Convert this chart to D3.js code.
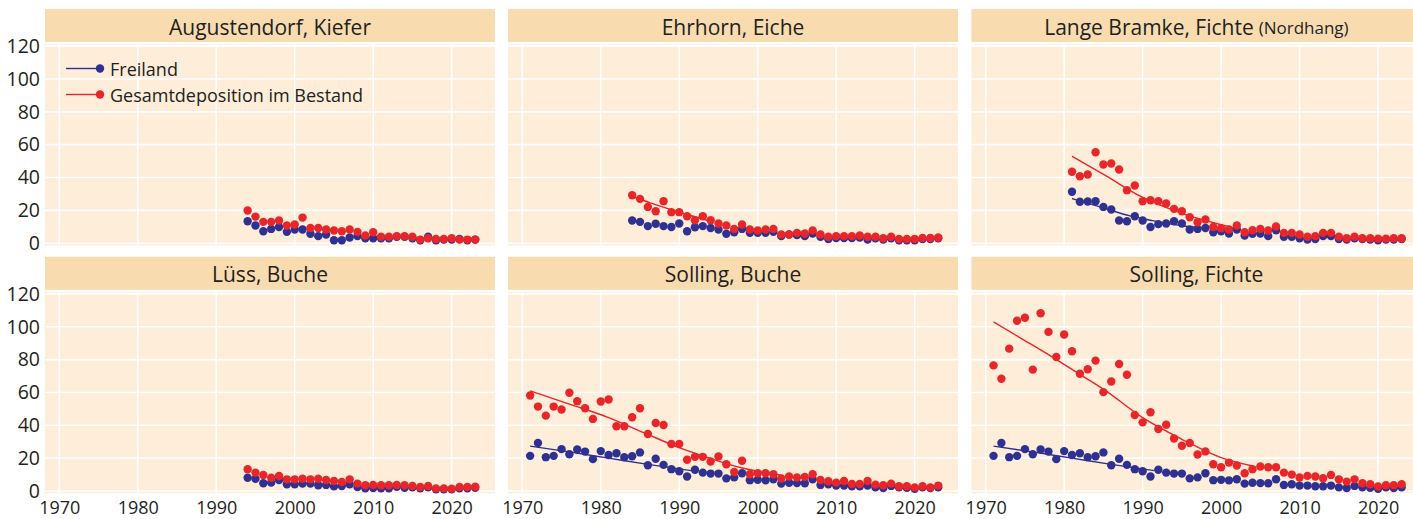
<!DOCTYPE html>
<html>
<head>
<meta charset="utf-8">
<script src="https://cdn.jsdelivr.net/npm/d3@7"></script>
<style>
  html, body { margin: 0; padding: 0; background: #ffffff; }
  svg { display: block; font-family: "Open Sans", sans-serif; }
</style>
</head>
<body>
<svg id="chart" width="1413" height="519"></svg>
<script>
// ---- Annual deposition per site (kg/ha/yr), Freiland = open field, Gesamt = total in stand ----
const xTicks = [1970, 1980, 1990, 2000, 2010, 2020];
const yTicks = [0, 20, 40, 60, 80, 100, 120];

const seriesNames = ["Freiland", "Gesamtdeposition im Bestand"];

const augustendorfStart = 1994;
const augustendorfFreiland = [13.4, 10.8, 7.3, 8.7, 9.9, 6.9, 8.3, 8.3, 5.7, 4.3, 5.3, 1.8, 1.8, 3.5, 4.3, 3.0, 3.0, 3.0, 3.0, 3.9, 3.9, 3.0, 1.8, 3.9, 1.8, 2.2, 2.2, 2.6, 1.8, 2.2];
const augustendorfGesamt = [19.9, 16.2, 13.0, 13.0, 13.8, 10.8, 11.4, 15.6, 9.3, 9.3, 8.3, 7.7, 7.3, 8.3, 6.9, 4.7, 6.7, 3.9, 3.9, 4.3, 4.3, 3.9, 2.2, 3.0, 2.6, 2.6, 3.0, 2.2, 2.2, 2.2];

const ehrhornStart = 1984;
const ehrhornFreiland = [13.8, 13.0, 10.4, 11.8, 10.4, 9.9, 12.0, 7.3, 9.7, 10.4, 9.3, 8.3, 5.7, 6.7, 8.7, 6.3, 6.3, 6.3, 6.9, 4.3, 5.3, 4.9, 4.3, 5.9, 3.9, 2.6, 3.2, 3.2, 3.2, 3.5, 2.2, 3.0, 2.2, 3.0, 1.8, 1.8, 1.8, 2.6, 2.6, 3.0];
const ehrhornGesamt = [29.2, 27.0, 22.1, 19.5, 25.6, 18.9, 18.9, 16.4, 14.0, 16.4, 14.0, 12.0, 10.8, 8.7, 11.4, 8.3, 7.7, 8.3, 8.7, 5.3, 5.3, 6.3, 5.9, 7.7, 5.3, 3.9, 4.3, 4.3, 4.3, 4.7, 3.9, 3.9, 3.0, 3.9, 2.6, 2.6, 2.6, 3.2, 3.2, 3.5];
const ehrhornGesamtTrend = [[1984, 28.6], [1986.3, 24.6], [1988.6, 21.0], [1991.3, 17.0], [1994, 13.5]];

const langeBramkeStart = 1981;
const langeBramkeFreiland = [31.3, 25.2, 25.4, 25.6, 22.1, 20.5, 13.8, 13.4, 16.4, 13.8, 9.9, 11.6, 12.0, 13.4, 12.0, 8.3, 8.7, 9.3, 6.7, 7.3, 5.9, 8.3, 4.7, 5.7, 5.9, 4.3, 7.9, 3.9, 3.9, 3.0, 2.2, 2.6, 4.3, 4.3, 2.6, 2.2, 3.0, 2.6, 2.2, 1.8, 2.2, 2.2, 2.6];
const langeBramkeGesamt = [43.5, 40.8, 41.8, 55.4, 47.9, 48.5, 44.9, 32.3, 35.1, 25.6, 26.2, 25.6, 24.2, 20.9, 19.5, 15.8, 12.8, 14.4, 9.9, 9.1, 8.3, 10.8, 6.7, 7.9, 8.7, 7.7, 10.2, 6.3, 6.3, 5.3, 3.9, 4.3, 6.3, 6.3, 3.9, 3.0, 3.9, 3.0, 3.0, 2.8, 2.8, 3.0, 3.0];
const langeBramkeFreilandTrend = [[1981, 27.2], [1985, 21.5], [1988.4, 16.6], [1991, 14.0], [1995, 10.6], [1997.5, 9.3]];
const langeBramkeGesamtTrend = [[1981, 53.0], [1985.4, 40.8], [1989.7, 28.6], [1994.8, 18.5], [1999.9, 11.4], [2002.4, 8.4]];

const luessStart = 1994;
const luessFreiland = [8.1, 7.5, 4.7, 5.1, 6.7, 4.1, 4.1, 4.5, 4.5, 3.5, 3.7, 2.8, 3.0, 4.1, 2.4, 1.6, 1.8, 1.6, 1.6, 2.6, 2.0, 2.2, 1.6, 2.2, 1.0, 1.0, 1.0, 1.6, 1.6, 2.0];
const luessGesamt = [13.2, 11.2, 9.7, 8.1, 9.1, 7.1, 7.1, 7.5, 7.1, 7.5, 6.7, 6.1, 5.5, 7.1, 4.5, 3.5, 3.7, 3.5, 3.5, 3.7, 3.5, 3.0, 2.4, 3.0, 1.6, 1.6, 1.4, 2.4, 2.4, 2.6];

const sollingStart = 1971;
const sollingFreiland = [21.4, 29.2, 20.6, 21.4, 25.5, 22.4, 25.3, 24.0, 19.4, 24.3, 21.9, 23.0, 20.6, 21.2, 23.5, 15.7, 19.6, 15.9, 13.3, 12.0, 8.8, 12.9, 11.2, 10.6, 10.6, 7.7, 8.3, 10.8, 6.6, 6.8, 6.5, 7.2, 4.5, 5.0, 4.8, 4.7, 7.2, 3.7, 4.1, 3.3, 3.3, 2.9, 2.9, 3.3, 2.2, 1.8, 3.1, 2.3, 1.9, 1.4, 2.2, 1.8, 2.3];
const sollingFreilandTrend = [[1971, 27.3], [1976, 23.8], [1981, 20.0], [1986, 16.2], [1991.5, 12.4]];
const sollingBucheGesamt = [58.2, 51.4, 45.9, 51.4, 49.6, 59.8, 54.7, 50.4, 43.9, 54.5, 55.7, 39.4, 39.4, 44.9, 50.4, 34.7, 41.4, 40.2, 28.6, 28.6, 19.0, 20.8, 20.8, 18.0, 21.0, 16.3, 11.6, 18.4, 10.2, 10.8, 10.8, 10.2, 7.6, 8.8, 8.2, 8.6, 10.2, 6.7, 5.9, 5.1, 6.1, 4.3, 4.3, 6.1, 3.9, 3.5, 4.5, 2.9, 2.9, 2.2, 2.9, 2.2, 3.3];
const sollingBucheGesamtTrend = [[1971, 61.0], [1976, 52.9], [1981, 44.7], [1985.5, 35.5], [1990, 26.4], [1994, 19.8], [1998, 14.0], [2003, 9.7]];
const sollingFichteGesamt = [76.5, 68.4, 86.7, 103.7, 105.5, 73.9, 108.2, 96.9, 81.6, 95.3, 85.1, 71.4, 74.1, 79.4, 60.2, 66.7, 77.3, 70.8, 46.3, 41.8, 48.0, 37.8, 40.4, 32.0, 27.6, 29.2, 22.2, 24.1, 16.3, 14.5, 17.3, 15.5, 10.8, 13.3, 14.9, 14.5, 14.5, 11.2, 10.0, 8.2, 9.2, 8.8, 7.8, 9.8, 7.1, 5.7, 7.1, 4.7, 4.1, 2.7, 3.5, 3.5, 4.1];
const sollingFichteGesamtTrend = [[1971, 103.0], [1974.5, 93.0], [1978, 83.0], [1981.5, 72.5], [1985, 62.0], [1990, 44.7], [1995, 31.5], [2000, 20.3], [2004, 15.2]];

// ---- Panel definitions built from the arrays above ----
const toPoints = (start, vals) => vals.map((v, i) => [start + i, v]);

const panels = [
  { title: "Augustendorf, Kiefer", sub: "", start: augustendorfStart, free: augustendorfFreiland, total: augustendorfGesamt, freeTrend: null, totalTrend: null, legend: true },
  { title: "Ehrhorn, Eiche", sub: "", start: ehrhornStart, free: ehrhornFreiland, total: ehrhornGesamt, freeTrend: null, totalTrend: ehrhornGesamtTrend },
  { title: "Lange Bramke, Fichte", sub: "(Nordhang)", start: langeBramkeStart, free: langeBramkeFreiland, total: langeBramkeGesamt, freeTrend: langeBramkeFreilandTrend, totalTrend: langeBramkeGesamtTrend },
  { title: "Lüss, Buche", sub: "", start: luessStart, free: luessFreiland, total: luessGesamt, freeTrend: null, totalTrend: null },
  { title: "Solling, Buche", sub: "", start: sollingStart, free: sollingFreiland, total: sollingBucheGesamt, freeTrend: sollingFreilandTrend, totalTrend: sollingBucheGesamtTrend },
  { title: "Solling, Fichte", sub: "", start: sollingStart, free: sollingFreiland, total: sollingFichteGesamt, freeTrend: sollingFreilandTrend, totalTrend: sollingFichteGesamtTrend }
];

// ---- Layout & style ----
const colLeft = [45, 508, 971.4];
const stripTop = [9, 256.8];
const stripH = 33;
const plotGap = 2.5;
const plotW = 450, plotH = 201;
const colStrip = "#f8dcb0";
const colPanel = "#fdedd9";
const colFree = "#2e3192";
const colTotal = "#e8262a";
const colText = "#231f20";
const dotR = 4.2;

const x = d3.scaleLinear().domain([1968.18, 2025.52]).range([0, plotW]);
const y = d3.scaleLinear().domain([-1.4, 121]).range([plotH, 0]);
const line = d3.line().x(d => x(d[0])).y(d => y(d[1])).curve(d3.curveMonotoneX);

const svg = d3.select("#chart");

panels.forEach((p, i) => {
  const col = i % 3, row = Math.floor(i / 3);
  const left = colLeft[col];
  const sTop = stripTop[row];
  const pTop = sTop + stripH + plotGap;

  // facet strip
  const strip = svg.append("g").attr("transform", `translate(${left},${sTop})`);
  strip.append("rect").attr("width", plotW).attr("height", stripH).attr("fill", colStrip);
  const t = strip.append("text")
    .attr("x", plotW / 2).attr("y", stripH / 2 + 1)
    .attr("text-anchor", "middle").attr("dominant-baseline", "central")
    .attr("fill", colText).attr("font-size", 21);
  t.append("tspan").text(p.title);
  if (p.sub) t.append("tspan").attr("font-size", 17).attr("dx", 5).text(p.sub);

  const g = svg.append("g").attr("transform", `translate(${left},${pTop})`);
  g.append("rect").attr("width", plotW).attr("height", plotH).attr("fill", colPanel);

  // grid
  g.append("g").selectAll("line").data(xTicks).join("line")
    .attr("x1", d => x(d)).attr("x2", d => x(d)).attr("y1", 0).attr("y2", plotH)
    .attr("stroke", "#ffffff").attr("stroke-width", 1.6);
  g.append("g").selectAll("line").data(yTicks).join("line")
    .attr("y1", d => y(d)).attr("y2", d => y(d)).attr("x1", 0).attr("x2", plotW)
    .attr("stroke", "#ffffff").attr("stroke-width", 1.6);

  // axes
  if (col === 0) {
    const ay = g.append("g").call(d3.axisLeft(y).tickValues(yTicks).tickSize(0).tickPadding(5));
    ay.select(".domain").remove();
    ay.selectAll("text").attr("font-size", 19.5).attr("fill", colText).attr("font-family", "Open Sans, sans-serif");
  }
  if (row === 1) {
    const ax = g.append("g").attr("transform", `translate(0,${plotH})`)
      .call(d3.axisBottom(x).tickValues(xTicks).tickFormat(d3.format("d")).tickSize(0).tickPadding(8));
    ax.select(".domain").remove();
    ax.selectAll("text").attr("font-size", 18).attr("fill", colText).attr("font-family", "Open Sans, sans-serif");
  }

  // trend lines
  if (p.freeTrend) g.append("path").attr("d", line(p.freeTrend)).attr("fill", "none").attr("stroke", colFree).attr("stroke-width", 1.4);
  if (p.totalTrend) g.append("path").attr("d", line(p.totalTrend)).attr("fill", "none").attr("stroke", colTotal).attr("stroke-width", 1.4);

  // points
  g.append("g").selectAll("circle").data(toPoints(p.start, p.free)).join("circle")
    .attr("cx", d => x(d[0])).attr("cy", d => y(d[1])).attr("r", dotR).attr("fill", colFree);
  g.append("g").selectAll("circle").data(toPoints(p.start, p.total)).join("circle")
    .attr("cx", d => x(d[0])).attr("cy", d => y(d[1])).attr("r", dotR).attr("fill", colTotal);

  // legend
  if (p.legend) {
    const lg = g.append("g").attr("transform", "translate(21,24)");
    [colFree, colTotal].forEach((c, k) => {
      const row = lg.append("g").attr("transform", `translate(0,${k * 26})`);
      row.append("line").attr("x1", 0).attr("x2", 32).attr("y1", 0).attr("y2", 0).attr("stroke", c).attr("stroke-width", 1.4);
      row.append("circle").attr("cx", 34).attr("cy", 0).attr("r", dotR).attr("fill", c);
      row.append("text").attr("x", 44).attr("y", 0).attr("dominant-baseline", "central")
        .attr("font-size", 18).attr("fill", colText).text(seriesNames[k]);
    });
  }
});
</script>
</body>
</html>
